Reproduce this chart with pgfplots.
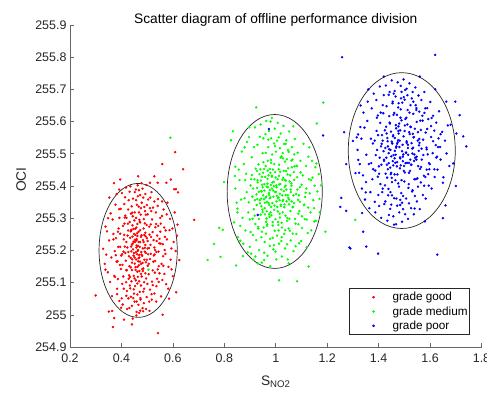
\documentclass[border=0pt]{standalone}
\usepackage{pgfplots}
\pgfplotsset{compat=1.18}
\usepackage{fontspec}
\setmainfont{Liberation Sans}
\definecolor{axgray}{rgb}{0.15,0.15,0.15}
\begin{document}
\begin{tikzpicture}
\useasboundingbox (-70bp,-47bp) rectangle (417bp,347bp);
\begin{axis}[
  scale only axis, width=411.5bp, height=322bp,
  xmin=0.2, xmax=1.8, ymin=254.9, ymax=255.9,
  xtick={0.2,0.4,0.6,0.8,1,1.2,1.4,1.6,1.8},
  ytick={254.9,255,255.1,255.2,255.3,255.4,255.5,255.6,255.7,255.8,255.9},
  scaled y ticks=false, scaled x ticks=false,
  axis x line*=bottom, axis y line*=left,
  axis line style={black!60, line width=0.6bp},
  tick align=inside, major tick length=4bp,
  tick style={black!60, line width=0.6bp},
  /pgf/number format/assume math mode=true,
  yticklabel style={/pgf/number format/.cd, fixed, precision=1},
  ticklabel style={font=\fontsize{12.5}{14}\selectfont, text=axgray},
  xticklabel style={yshift=-3bp},
  title={Scatter diagram of offline performance division},
  title style={font=\fontsize{13.8}{16}\selectfont, text=black, at={(axis description cs:0.5,1)}, anchor=base, yshift=-4bp},
  xlabel={S\textsubscript{NO2}},
  xlabel style={font=\fontsize{13.8}{16}\selectfont, text=axgray, at={(axis description cs:0.5,0)}, anchor=base, yshift=-38bp},
  ylabel={OCI},
  ylabel style={font=\fontsize{13.8}{16}\selectfont, text=axgray, at={(axis description cs:-0.107,0.52)}, anchor=base, rotate=0},
  legend style={at={(axis description cs:0.972,0.037)}, anchor=south east, font=\fontsize{11.8}{13.5}\selectfont, draw=axgray, line width=0.6bp, cells={anchor=west}, row sep=0.3bp, inner xsep=1bp, nodes={inner xsep=1bp}},
  every axis plot/.append style={only marks, mark=*, mark size=1.0bp,
    legend image code/.code={\path[draw=none, fill=none] (0bp,-2bp) rectangle (41bp,2bp); \draw[mark repeat=2, mark phase=2, ##1] plot coordinates {(0bp,0bp)(23bp,0bp)(46bp,0bp)};}},
]
\addplot[red, mark options={draw=red, fill=red}] table {
0.465 255.201
0.452 255.233
0.478 255.187
0.441 255.162
0.489 255.248
0.470 255.295
0.433 255.118
0.502 255.206
0.458 255.271
0.447 255.184
0.481 255.142
0.419 255.226
0.495 255.311
0.462 255.097
0.436 255.259
0.511 255.173
0.473 255.226
0.455 255.148
0.488 255.081
0.427 255.195
0.467 255.336
0.398 255.142
0.521 255.257
0.444 255.306
0.476 255.158
0.459 255.215
0.493 255.129
0.412 255.283
0.485 255.364
0.449 255.066
0.531 255.201
0.438 255.212
0.470 255.178
0.462 255.245
0.403 255.096
0.516 255.322
0.456 255.389
0.482 255.021
0.426 255.327
0.499 255.238
0.441 255.139
0.473 255.263
0.388 255.211
0.545 255.151
0.464 255.118
0.491 255.196
0.432 255.288
0.508 255.274
0.451 255.041
0.476 255.331
0.417 255.168
0.537 255.229
0.461 255.188
0.445 255.361
0.486 255.226
0.395 255.252
0.468 255.154
0.522 255.092
0.439 255.104
0.497 255.403
0.454 255.267
0.479 255.119
0.408 255.196
0.526 255.184
0.466 255.031
0.434 255.239
0.502 255.152
0.448 255.192
0.473 255.372
0.381 255.165
0.551 255.258
0.459 255.235
0.487 255.297
0.421 255.074
0.513 255.217
0.443 255.278
0.469 255.104
0.495 255.163
0.415 255.308
0.558 255.307
0.457 255.172
0.478 255.247
0.429 255.182
0.506 255.126
0.452 255.318
0.483 255.206
0.392 255.301
0.539 255.112
0.463 255.149
0.437 255.056
0.499 255.341
0.447 255.227
0.471 255.211
0.375 255.118
0.528 255.352
0.456 255.107
0.489 255.171
0.424 255.246
0.517 255.064
0.462 255.282
0.442 255.172
0.476 255.127
0.409 255.234
0.544 255.196
0.468 255.318
0.431 255.151
0.493 255.255
0.453 255.089
0.484 255.232
0.401 255.051
0.532 255.272
0.466 255.176
0.438 255.197
0.504 255.188
0.449 255.251
0.474 255.052
0.386 255.258
0.562 255.182
0.458 255.209
0.492 255.322
0.419 255.139
0.515 255.242
0.444 255.221
0.472 255.165
0.428 255.356
0.509 255.012
0.461 255.253
0.481 255.183
0.413 255.212
0.548 255.236
0.455 255.139
0.437 255.314
0.496 255.113
0.467 255.226
0.399 255.184
0.524 255.165
0.451 255.178
0.486 255.268
0.434 255.082
0.478 255.409
0.443 255.243
0.502 255.229
0.457 255.301
0.369 255.234
0.567 255.127
0.465 255.166
0.423 255.209
0.519 255.296
0.448 255.121
0.485 255.144
0.406 255.276
0.535 255.041
0.463 255.198
0.439 255.264
0.491 255.208
0.473 255.287
0.418 255.101
0.511 255.331
0.452 255.159
0.477 255.195
0.395 255.211
0.543 255.276
0.460 255.342
0.430 255.123
0.498 255.279
0.470 255.136
0.445 255.203
0.484 255.011
0.411 255.344
0.528 255.209
0.458 255.231
0.436 255.177
0.506 255.158
0.467 255.258
0.383 255.081
0.553 255.221
0.450 255.293
0.488 255.101
0.426 255.262
0.514 255.189
0.462 255.134
0.441 255.218
0.475 255.311
0.404 255.155
0.541 255.338
0.456 255.194
0.493 255.217
0.420 255.301
0.471 255.071
0.447 255.267
0.499 255.171
0.378 255.185
0.572 255.262
0.464 255.214
0.433 255.091
0.509 255.249
0.454 255.248
0.482 255.161
0.415 255.192
0.530 255.131
0.469 255.186
0.440 255.337
0.495 255.192
0.459 255.009
0.476 255.242
0.391 255.328
0.536 255.195
0.609 255.505
0.559 255.468
0.640 255.452
0.683 255.295
0.300 255.060
0.367 254.962
0.542 254.943
0.441 254.970
0.612 255.390
0.592 255.420
0.618 255.280
0.625 255.170
0.600 255.120
0.585 255.050
0.338 255.140
0.329 255.205
0.351 255.010
0.372 254.990
0.410 254.985
0.395 255.420
0.528 255.430
0.575 255.410
0.348 255.300
0.560 255.000
0.613 255.070
0.465 255.430
0.511 255.410
0.541 255.410
0.605 255.390
0.620 255.380
0.352 255.231
0.361 255.178
0.366 255.296
0.372 255.121
0.377 255.342
0.383 255.064
0.389 255.268
0.394 255.155
0.356 255.102
0.402 255.378
0.405 255.032
0.411 255.248
0.344 255.259
0.418 255.395
0.422 255.018
0.428 255.112
0.435 255.399
0.441 255.028
0.446 255.052
0.452 255.381
0.458 254.998
0.463 255.402
0.469 255.006
0.474 255.047
0.482 255.392
0.487 255.036
0.493 255.375
0.498 255.055
0.504 255.358
0.511 255.078
0.517 255.381
0.522 255.138
0.528 255.066
0.534 255.318
0.539 255.246
0.545 255.102
0.551 255.301
0.556 255.158
0.561 255.219
0.566 255.271
0.571 255.189
0.577 255.234
0.583 255.149
0.589 255.298
0.594 255.206
0.358 255.315
0.363 255.058
0.369 255.251
0.374 255.198
0.381 255.375
0.386 255.111
0.392 255.043
0.397 255.329
0.403 255.188
0.409 255.081
0.414 255.365
0.421 255.138
0.427 255.051
0.432 255.382
0.438 255.262
0.444 254.988
0.451 255.113
0.457 255.356
0.462 255.063
0.468 255.387
0.473 255.013
0.479 255.348
0.485 255.072
0.491 255.284
0.496 255.018
0.502 255.312
0.508 255.041
0.514 255.281
0.519 255.103
0.525 255.232
0.531 255.167
0.536 255.089
0.542 255.359
0.548 255.129
0.553 255.283
0.559 255.108
0.564 255.327
0.569 255.242
0.574 255.095
0.579 255.348
0.587 255.263
0.595 255.141
0.341 255.187
0.347 255.132
0.353 255.364
0.364 255.012
0.371 255.409
0.379 255.238
0.385 255.166
0.391 255.389
0.399 255.022
0.407 255.119
0.413 255.302
0.419 255.059
0.425 255.283
0.431 255.021
0.437 255.147
0.442 255.317
0.448 255.079
0.453 255.226
0.459 255.041
0.464 255.368
0.471 255.288
0.476 255.091
0.483 255.136
0.489 255.335
0.494 255.244
0.501 255.096
0.507 255.207
0.512 255.364
0.518 255.047
0.523 255.333
0.529 255.187
0.535 255.282
0.541 255.141
0.547 255.222
0.554 255.057
0.558 255.352
0.563 255.152
0.568 255.201
0.576 255.312
0.582 255.081
0.591 255.171
0.598 255.268
0.603 255.226
0.607 255.318
0.335 255.158
0.338 255.274
0.611 255.198
0.616 255.246
};
\addlegendentry{grade good}
\addplot[green, mark options={draw=green, fill=green}] table {
1.001 255.382
0.987 255.411
1.015 255.356
0.972 255.347
1.029 255.425
0.994 255.468
0.958 255.312
1.041 255.389
0.979 255.441
1.008 255.321
0.965 255.398
1.052 255.358
0.946 255.429
1.022 255.492
0.988 255.277
1.034 255.343
0.951 255.371
1.011 255.452
0.976 255.362
1.061 255.408
0.938 255.356
0.997 255.524
1.045 255.301
0.963 255.289
1.018 255.406
0.982 255.335
1.073 255.461
0.927 255.394
1.005 255.246
0.969 255.478
1.038 255.372
0.991 255.367
1.027 255.318
0.944 255.337
1.056 255.433
0.981 255.403
0.917 255.421
1.012 255.551
1.067 255.336
0.955 255.453
0.999 255.297
1.031 255.447
0.974 255.312
1.084 255.389
0.932 255.273
1.016 255.376
0.961 255.364
1.048 255.512
0.985 255.432
1.003 255.352
0.909 255.367
1.092 255.322
0.968 255.422
1.024 255.271
0.949 255.396
1.039 255.417
0.993 255.216
0.977 255.387
1.063 255.458
0.922 255.454
1.007 255.421
0.957 255.331
1.035 255.397
0.986 255.498
1.077 255.283
0.941 255.311
1.019 255.342
0.971 255.544
1.049 255.363
0.902 255.402
0.995 255.339
1.028 255.486
0.962 255.252
1.101 255.404
0.934 255.382
1.013 255.466
0.983 255.309
1.058 255.381
0.952 255.474
1.002 255.402
0.926 255.341
1.071 255.347
0.973 255.378
1.037 255.263
0.989 255.451
1.046 255.436
0.947 255.404
1.009 255.288
0.918 255.308
1.083 255.427
0.966 255.351
1.025 255.371
0.978 255.236
1.114 255.366
0.937 255.437
1.004 255.369
0.956 255.386
1.053 255.298
0.992 255.413
1.032 255.531
0.912 255.392
1.069 255.371
0.964 255.299
1.017 255.444
0.943 255.361
1.042 255.352
0.981 255.481
1.088 255.314
0.929 255.418
1.006 255.335
0.959 255.428
1.061 255.401
0.996 255.261
1.021 255.389
0.895 255.349
1.097 255.442
0.975 255.341
1.036 255.476
0.953 255.271
1.011 255.364
0.985 255.429
1.079 255.375
0.939 255.346
1.044 255.292
0.968 255.407
1.026 255.419
0.921 255.282
1.001 255.507
1.054 255.414
0.948 255.326
0.990 255.386
1.109 255.341
0.961 255.462
1.033 255.334
0.976 255.304
1.065 255.482
0.907 255.434
1.014 255.405
0.945 255.383
1.047 255.371
0.994 255.326
1.023 255.241
0.933 255.467
1.087 255.357
0.970 255.396
1.040 255.446
0.958 255.348
1.119 255.392
0.998 255.443
0.925 255.374
1.057 255.322
0.979 255.365
1.010 255.279
0.942 255.417
1.029 255.357
0.887 255.381
1.072 255.419
0.965 255.321
1.019 255.488
0.951 255.441
1.050 255.268
0.987 255.347
1.094 255.396
0.915 255.328
1.003 255.396
0.972 255.433
1.038 255.308
0.935 255.298
1.062 255.352
0.982 255.472
1.015 255.314
0.954 255.359
1.126 255.333
0.997 255.382
0.930 255.411
1.043 255.483
0.967 255.281
1.027 255.354
0.899 255.296
1.081 255.463
0.980 255.318
1.012 255.431
0.946 255.258
1.058 255.389
0.993 255.399
0.961 255.503
1.035 255.419
0.919 255.356
1.102 255.306
0.974 255.372
1.020 255.338
0.940 255.452
1.066 255.334
0.988 255.288
1.008 255.362
0.956 255.406
1.048 255.455
0.881 255.418
1.075 255.298
0.969 255.448
1.031 255.384
0.949 255.319
1.000 255.427
1.090 255.371
0.928 255.359
1.016 255.302
0.985 255.392
1.052 255.343
0.963 255.367
1.137 255.418
0.911 255.248
1.039 255.401
0.977 255.453
1.023 255.286
0.944 255.384
1.070 255.443
0.924 255.644
1.185 255.659
0.833 255.570
0.826 255.542
1.160 255.594
0.799 255.412
0.794 255.264
0.846 255.153
1.013 255.107
1.083 255.104
1.193 255.258
0.872 255.182
0.862 255.230
0.851 255.330
0.843 255.460
0.879 255.520
0.905 255.190
0.955 255.170
1.050 255.160
1.120 255.210
1.150 255.290
1.170 255.360
1.158 255.470
1.130 255.520
1.068 255.585
0.980 255.600
0.897 255.582
0.780 255.270
0.760 255.220
0.735 255.170
0.785 255.180
0.590 255.550
0.505 255.140
1.309 255.295
1.128 255.150
0.930 255.160
0.843 255.392
0.851 255.318
0.856 255.451
0.862 255.276
0.868 255.507
0.874 255.221
0.879 255.362
0.885 255.438
0.891 255.194
0.896 255.552
0.902 255.257
0.907 255.489
0.913 255.171
0.919 255.582
0.924 255.232
0.929 255.528
0.935 255.201
0.941 255.591
0.946 255.162
0.952 255.548
0.957 255.226
0.963 255.602
0.968 255.183
0.974 255.571
0.979 255.151
0.985 255.611
0.991 255.203
0.996 255.578
1.002 255.172
1.008 255.596
1.013 255.221
1.019 255.563
1.024 255.181
1.030 255.587
1.036 255.206
1.041 255.542
1.047 255.172
1.052 255.569
1.058 255.231
1.063 255.521
1.069 255.198
1.074 255.546
1.080 255.251
1.085 255.503
1.091 255.222
1.096 255.478
1.102 255.269
1.108 255.531
1.113 255.297
1.118 255.462
1.124 255.254
1.129 255.421
1.135 255.318
1.141 255.478
1.146 255.356
1.151 255.401
1.156 255.292
1.162 255.383
1.167 255.437
0.848 255.348
0.853 255.241
0.859 255.418
0.865 255.358
0.871 255.301
0.876 255.468
0.882 255.262
0.888 255.537
0.893 255.318
0.899 255.211
0.904 255.421
0.910 255.298
0.916 255.521
0.921 255.181
0.927 255.447
0.932 255.268
0.938 255.553
0.944 255.241
0.949 255.502
0.955 255.193
0.960 255.561
0.966 255.276
0.971 255.521
0.977 255.214
0.982 255.548
0.988 255.239
0.994 255.532
0.999 255.196
1.005 255.541
1.011 255.262
1.016 255.517
1.022 255.229
1.027 255.502
1.033 255.251
1.039 255.531
1.044 255.219
1.050 255.506
1.055 255.261
1.061 255.479
1.066 255.252
1.072 255.498
1.077 255.213
1.083 255.462
1.088 255.281
1.094 255.351
1.099 255.229
1.105 255.433
1.111 255.342
1.116 255.379
1.121 255.296
1.127 255.491
1.132 255.377
1.138 255.262
1.143 255.426
1.149 255.331
1.154 255.458
0.838 255.287
0.841 255.431
1.171 255.318
1.176 255.402
};
\addlegendentry{grade medium}
\addplot[blue, mark options={draw=blue, fill=blue}] table {
1.491 255.508
1.476 255.542
1.505 255.471
1.462 255.486
1.521 255.561
1.485 255.612
1.447 255.437
1.534 255.519
1.468 255.579
1.498 255.447
1.453 255.532
1.547 255.482
1.431 255.563
1.513 255.636
1.479 255.398
1.526 255.466
1.439 255.502
1.502 255.588
1.466 255.497
1.558 255.546
1.421 255.482
1.487 255.672
1.539 255.421
1.452 255.412
1.509 255.539
1.471 255.461
1.571 255.603
1.409 255.523
1.495 255.369
1.458 255.621
1.531 255.501
1.483 255.489
1.518 255.441
1.432 255.466
1.553 255.567
1.472 255.531
1.398 255.558
1.503 255.698
1.565 255.459
1.443 255.597
1.489 255.418
1.524 255.584
1.462 255.436
1.586 255.519
1.416 255.392
1.507 255.504
1.449 255.492
1.544 255.651
1.477 255.571
1.494 255.477
1.389 255.496
1.597 255.452
1.457 255.558
1.516 255.394
1.436 255.523
1.537 255.552
1.484 255.341
1.468 255.519
1.562 255.603
1.406 255.596
1.497 255.554
1.445 255.457
1.528 255.533
1.476 255.644
1.577 255.401
1.427 255.438
1.511 255.472
1.459 255.687
1.548 255.491
1.385 255.541
1.486 255.464
1.520 255.628
1.452 255.371
1.612 255.539
1.419 255.508
1.504 255.608
1.473 255.436
1.556 255.509
1.441 255.617
1.493 255.528
1.411 255.466
1.568 255.482
1.463 255.509
1.532 255.387
1.480 255.594
1.541 255.578
1.435 255.539
1.500 255.414
1.402 255.438
1.583 255.566
1.455 255.477
1.515 255.497
1.469 255.361
1.624 255.488
1.424 255.573
1.496 255.498
1.446 255.512
1.551 255.424
1.482 255.541
1.529 255.672
1.394 255.512
1.574 255.496
1.451 255.425
1.512 255.591
1.430 255.488
1.538 255.478
1.471 255.621
1.593 255.437
1.413 255.558
1.499 255.462
1.448 255.569
1.559 255.534
1.488 255.378
1.514 255.518
1.371 255.471
1.604 255.586
1.465 255.472
1.535 255.624
1.438 255.391
1.506 255.503
1.478 255.563
1.587 255.514
1.421 255.478
1.545 255.421
1.456 255.554
1.519 255.567
1.407 255.406
1.492 255.659
1.552 255.541
1.436 255.452
1.484 255.486
1.631 255.521
1.444 255.594
1.527 255.466
1.465 255.418
1.578 255.627
1.392 255.571
1.509 255.534
1.426 255.518
1.542 255.488
1.481 255.521
1.454 255.657
1.536 255.551
1.404 255.488
1.596 255.471
1.474 255.536
1.502 255.442
1.433 255.426
1.564 255.574
1.489 255.604
1.446 255.381
1.617 255.452
1.416 255.541
1.523 255.482
1.467 255.589
1.548 255.599
1.378 255.532
1.501 255.571
1.458 255.496
1.573 255.544
1.439 255.471
1.517 255.406
1.486 255.638
1.554 255.462
1.418 255.626
1.494 255.491
1.589 255.577
1.451 255.538
1.531 255.516
1.476 255.408
1.401 255.461
1.567 255.516
1.461 255.627
1.522 255.447
1.429 255.584
1.547 255.636
1.483 255.455
1.641 255.561
1.441 255.514
1.508 255.612
1.469 255.523
1.582 255.428
1.397 255.619
1.539 255.498
1.457 255.464
1.525 255.583
1.491 255.348
1.434 255.549
1.561 255.453
1.477 255.585
1.514 255.528
1.387 255.448
1.606 255.611
1.449 255.441
1.533 255.562
1.472 255.474
1.498 255.676
1.425 255.402
1.557 255.526
1.463 255.549
1.591 255.498
1.412 255.531
1.518 255.472
1.484 255.573
1.258 255.800
1.620 255.807
1.266 255.567
1.274 255.468
1.255 255.363
1.251 255.335
1.274 255.323
1.336 255.316
1.340 255.258
1.290 255.206
1.352 255.212
1.398 255.190
1.628 255.187
1.741 255.523
1.729 255.554
1.698 255.662
1.663 255.662
1.702 255.563
0.973 255.577
1.184 255.557
0.930 255.310
1.286 255.209
1.320 255.560
1.310 255.440
1.330 255.650
1.360 255.700
1.420 255.740
1.560 255.740
1.620 255.700
1.680 255.590
1.690 255.470
1.700 255.400
1.660 255.340
1.650 255.300
1.580 255.290
1.460 255.280
1.440 255.310
1.540 255.330
1.300 255.540
1.650 255.410
1.715 255.620
1.350 255.380
1.318 255.512
1.324 255.441
1.329 255.583
1.335 255.392
1.341 255.628
1.347 255.358
1.352 255.497
1.358 255.662
1.364 255.331
1.370 255.547
1.376 255.421
1.381 255.687
1.387 255.318
1.393 255.612
1.399 255.372
1.405 255.709
1.410 255.301
1.416 255.651
1.422 255.344
1.428 255.712
1.434 255.292
1.439 255.683
1.445 255.329
1.451 255.728
1.457 255.306
1.462 255.695
1.468 255.281
1.474 255.722
1.480 255.318
1.486 255.711
1.491 255.289
1.497 255.731
1.503 255.312
1.509 255.702
1.514 255.298
1.520 255.719
1.526 255.331
1.532 255.692
1.537 255.312
1.543 255.706
1.549 255.352
1.555 255.681
1.560 255.328
1.566 255.667
1.572 255.372
1.578 255.692
1.583 255.361
1.589 255.642
1.595 255.401
1.601 255.661
1.606 255.392
1.612 255.618
1.618 255.428
1.624 255.597
1.629 255.451
1.635 255.632
1.641 255.482
1.647 255.568
1.652 255.427
1.658 255.541
1.664 255.501
1.669 255.588
1.675 255.462
1.327 255.468
1.333 255.547
1.339 255.433
1.345 255.581
1.351 255.412
1.356 255.602
1.362 255.468
1.368 255.381
1.373 255.641
1.379 255.452
1.385 255.351
1.391 255.667
1.397 255.429
1.402 255.338
1.408 255.628
1.414 255.381
1.420 255.682
1.426 255.352
1.431 255.648
1.437 255.371
1.443 255.692
1.449 255.342
1.455 255.662
1.460 255.362
1.466 255.678
1.472 255.339
1.478 255.657
1.484 255.357
1.489 255.692
1.495 255.328
1.501 255.668
1.507 255.361
1.512 255.682
1.518 255.346
1.524 255.651
1.530 255.383
1.535 255.662
1.541 255.369
1.547 255.642
1.553 255.398
1.558 255.631
1.564 255.411
1.570 255.618
1.576 255.432
1.581 255.641
1.587 255.451
1.593 255.608
1.599 255.468
1.604 255.552
1.610 255.502
1.616 255.572
1.622 255.527
1.627 255.491
1.633 255.548
1.639 255.521
1.315 255.551
1.321 255.481
};
\addlegendentry{grade poor}
\draw[black!85, line width=0.7bp] (axis cs:0.465,255.200) ellipse [x radius=0.152, y radius=0.208];
\draw[black!85, line width=0.7bp] (axis cs:0.996,255.383) ellipse [x radius=0.185, y radius=0.239];
\draw[black!85, line width=0.7bp] (axis cs:1.490,255.510) ellipse [x radius=0.208, y radius=0.242];
\end{axis}
\end{tikzpicture}
\end{document}
